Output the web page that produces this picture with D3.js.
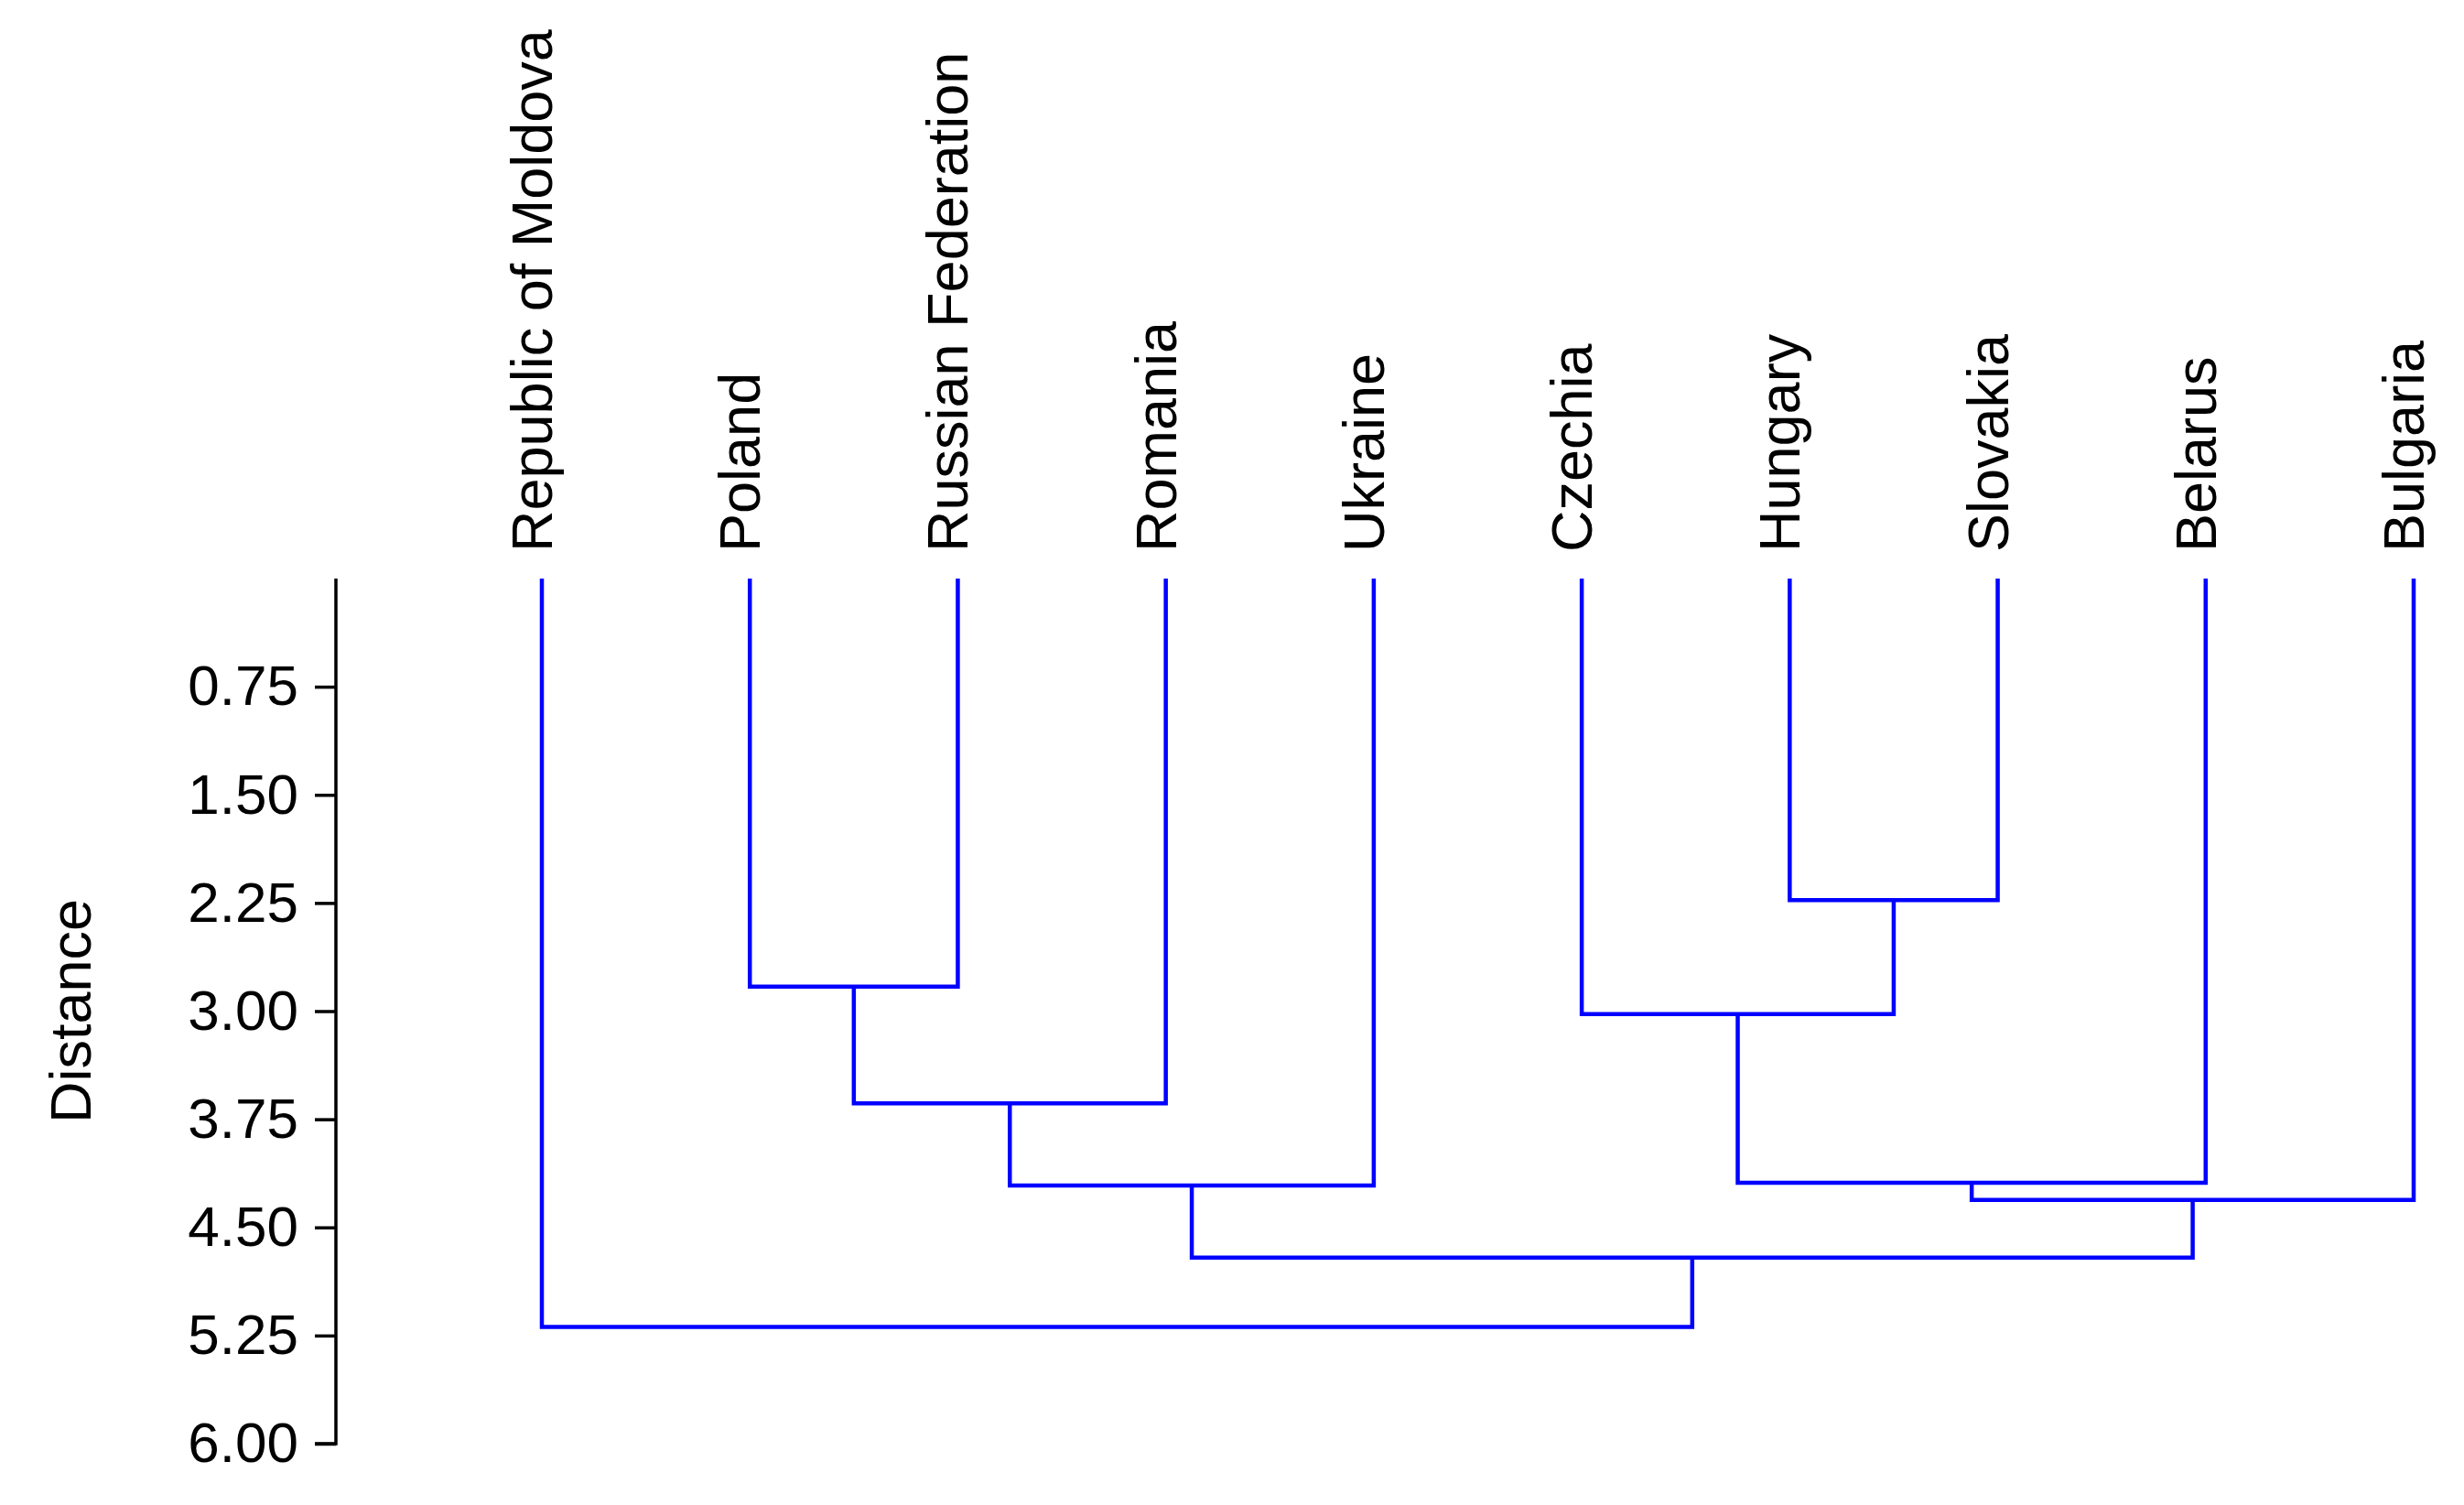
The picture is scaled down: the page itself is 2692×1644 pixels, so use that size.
<!DOCTYPE html>
<html>
<head>
<meta charset="utf-8">
<script src="https://cdn.jsdelivr.net/npm/d3@7"></script>
<style>
    body { margin: 0; background: #fff; }
    text { font-family: "Liberation Sans", Arial, sans-serif; fill: #000; }
</style>
</head>
<body>
<div id="chart"></div>
<script>
var width = 2692;
var height = 1644;

// leaf order along the x axis
var leaves = ["Republic of Moldova", "Poland", "Russian Federation", "Romania", "Ukraine",
    "Czechia", "Hungary", "Slovakia", "Belarus", "Bulgaria"];

// merges: [id, left child, right child, distance]
var merges = [
    ["m1", "Hungary", "Slovakia", 2.23],
    ["m2", "Poland", "Russian Federation", 2.83],
    ["m3", "Czechia", "m1", 3.02],
    ["m4", "m2", "Romania", 3.64],
    ["m5", "m3", "Belarus", 4.19],
    ["m6", "m4", "Ukraine", 4.21],
    ["m7", "m5", "Bulgaria", 4.31],
    ["m8", "m6", "m7", 4.71],
    ["m9", "Republic of Moldova", "m8", 5.19]
];

var yTicks = [0.75, 1.50, 2.25, 3.00, 3.75, 4.50, 5.25, 6.00];

var svg = d3.select("#chart").append("svg")
    .attr("width", width)
    .attr("height", height);

var x = d3.scalePoint().domain(leaves).range([592, 2637]);
var y = d3.scaleLinear().domain([0, 6]).range([632, 1577]);

// node positions
var nodes = {};
leaves.forEach(function (name) {
    nodes[name] = { x: x(name), h: 0 };
});
merges.forEach(function (m) {
    var a = nodes[m[1]], b = nodes[m[2]];
    nodes[m[0]] = { x: (a.x + b.x) / 2, h: m[3] };
});

svg.append("g").selectAll("path")
    .data(merges).enter().append("path")
    .attr("d", function (m) {
        var a = nodes[m[1]], b = nodes[m[2]];
        return "M" + a.x + "," + y(a.h) + "V" + y(m[3]) + "H" + b.x + "V" + y(b.h);
    })
    .style("fill", "none")
    .style("stroke", "#0000ff")
    .style("stroke-width", "4.5px");

// leaf labels
svg.append("g").selectAll("text")
    .data(leaves).enter().append("text")
    .attr("transform", function (d) { return "translate(" + (x(d) + 11) + ",603) rotate(-90)"; })
    .attr("text-anchor", "start")
    .style("font-size", "63px")
    .text(function (d) { return d; });

// y axis
var axis = svg.append("g")
    .attr("transform", "translate(367,0)")
    .call(d3.axisLeft(y).tickValues(yTicks).tickFormat(d3.format(".2f")).tickSize(23).tickPadding(18));
axis.select(".domain").attr("d", "M0," + y(0) + "V" + y(6) + "H-23")
    .style("stroke", "#000").style("stroke-width", "3.5px");
axis.selectAll(".tick line").style("stroke", "#000").style("stroke-width", "3.5px");
axis.selectAll(".tick text")
    .attr("fill", "#000")
    .style("font-family", '"Liberation Sans", Arial, sans-serif')
    .style("font-size", "62px");

svg.append("text")
    .attr("transform", "translate(99," + y(3) + ") rotate(-90)")
    .attr("text-anchor", "middle")
    .style("font-size", "63px")
    .text("Distance");
</script>
</body>
</html>
